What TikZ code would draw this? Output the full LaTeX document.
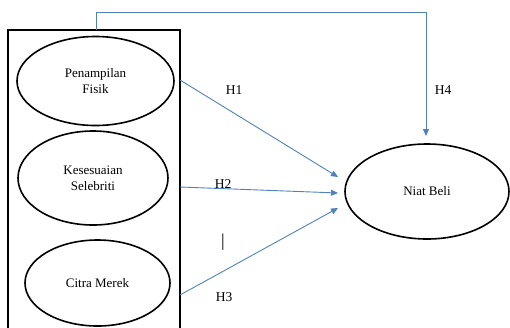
\documentclass[tikz,border=0pt]{standalone}
\usepackage{fontspec}
\setmainfont{Liberation Serif}
\usetikzlibrary{shapes.geometric, arrows.meta}

\definecolor{linkblue}{RGB}{79,129,189}

\begin{document}
\begin{tikzpicture}[x=1pt, y=-1pt]

        \tikzstyle{varnode} = [draw, ellipse, line width=1.6pt, inner sep=0, text centered, align=center, font=\fontsize{13}{16}\selectfont];
        \tikzstyle{arrow} = [draw=linkblue, line width=0.9pt, -{Triangle[width=6pt,length=7pt]}];
        \tikzstyle{hlabel} = [font=\fontsize{13.5}{15}\selectfont];

        \useasboundingbox (0,0) rectangle (510,327);

        % left block
        \draw[line width=1.8pt] (8,340) |- (180,30) -- (180,340);

        \node[varnode, minimum width=157, minimum height=89] (PF) at (95.5,81) {Penampilan\\Fisik};
        \node[varnode, minimum width=150, minimum height=94] (KS) at (93,178) {Kesesuaian\\Selebriti};
        \node[varnode, minimum width=145, minimum height=86] (CM) at (97.5,283) {Citra Merek};

        \node[varnode, minimum width=164, minimum height=95] (NB) at (427,191.5) {Niat Beli};

        \coordinate (BT) at (96,30);
        \coordinate (TL) at (96,12);
        \coordinate (TR) at (426,12);
        \coordinate (NBT) at (426,136);

        \coordinate (PFE) at (180,80);
        \coordinate (KSE) at (180,187);
        \coordinate (CME) at (180,295);
        \coordinate (T1) at (338,177);
        \coordinate (T2) at (338,193);
        \coordinate (T3) at (338,208);

        \draw [arrow] (PFE) -- (T1);
        \draw [arrow] (KSE) -- (T2);
        \draw [arrow] (CME) -- (T3);
        \draw [arrow] (BT) -- (TL) -- (TR) -- (NBT);

        \node[hlabel] (H1) at (234,90) {H1};
        \node[hlabel] (H2) at (223,184) {H2};
        \node[hlabel] (H3) at (224,297) {H3};
        \node[hlabel] (H4) at (443,90) {H4};
        \node[font=\fontsize{18}{18}\selectfont] (BAR) at (223,242) {|};

    \end{tikzpicture}
\end{document}
